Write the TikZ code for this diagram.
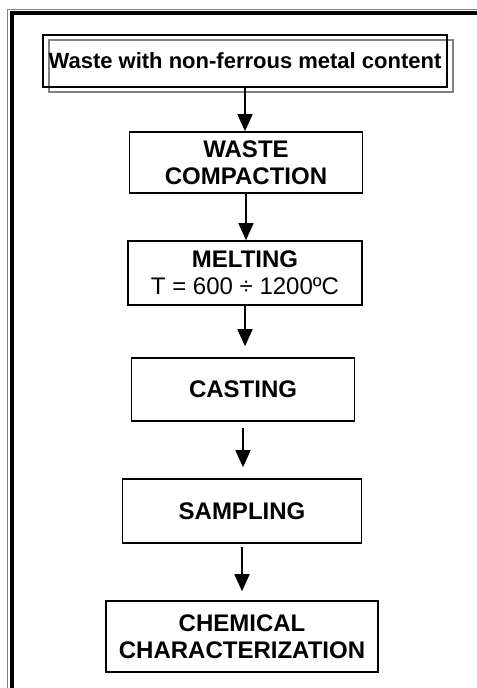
\documentclass[tikz,border=0pt]{standalone}
\usepackage{fontspec}
\setmainfont{Liberation Sans}
\usetikzlibrary{arrows.meta}

\tikzset{
  stage/.style={draw, line width=1.2pt, inner sep=0pt, align=center,
    font=\fontsize{18}{20.5}\selectfont\bfseries},
  flow/.style={line width=1.2pt, -{Triangle[length=12.75pt,width=11.25pt]}}
}

\begin{document}
\begin{tikzpicture}[x=0.75pt,y=-0.75pt]
\useasboundingbox (0,0) rectangle (477,688);
% page frame
\draw[gray, line width=0.8pt] (7.5,688) -- (7.5,9.5) -- (477,9.5);
\draw[line width=3pt] (12,688) -- (12,13) -- (477,13);

\node[stage, draw=gray, minimum width=303pt, minimum height=39pt] (shade) at (251,66) {};
\node[stage, minimum width=303pt, minimum height=39pt, font=\fontsize{16.5}{20}\selectfont\bfseries] (waste) at (245,61) {Waste with non-ferrous metal content};
\node[stage, minimum width=174.75pt, minimum height=45.75pt] (compact) at (246,162.5) {WASTE\\COMPACTION};
\node[stage, minimum width=175.5pt, minimum height=48pt] (melt) at (245,273) {MELTING\\\mdseries T = 600 ÷ 1200ºC};
\node[stage, minimum width=167.25pt, minimum height=47.25pt] (cast) at (243,389.5) {CASTING};
\node[stage, minimum width=179.25pt, minimum height=48pt] (sample) at (242,511) {SAMPLING};
\node[stage, minimum width=204pt, minimum height=53.25pt] (chem) at (242,636.5) {CHEMICAL\\CHARACTERIZATION};

\draw[flow] (waste.south) -- (waste.south |- compact.north);
\draw[flow] (compact.south) -- (compact.south |- melt.north);
\draw[flow, shorten >=8.25pt] (melt.south) -- (melt.south |- cast.north);
\draw[flow, shorten <=4.5pt, shorten >=8.25pt] (cast.south) -- (cast.south |- sample.north);
\draw[flow, shorten <=2.25pt, shorten >=6.75pt] (sample.south) -- (sample.south |- chem.north);
\end{tikzpicture}
\end{document}
